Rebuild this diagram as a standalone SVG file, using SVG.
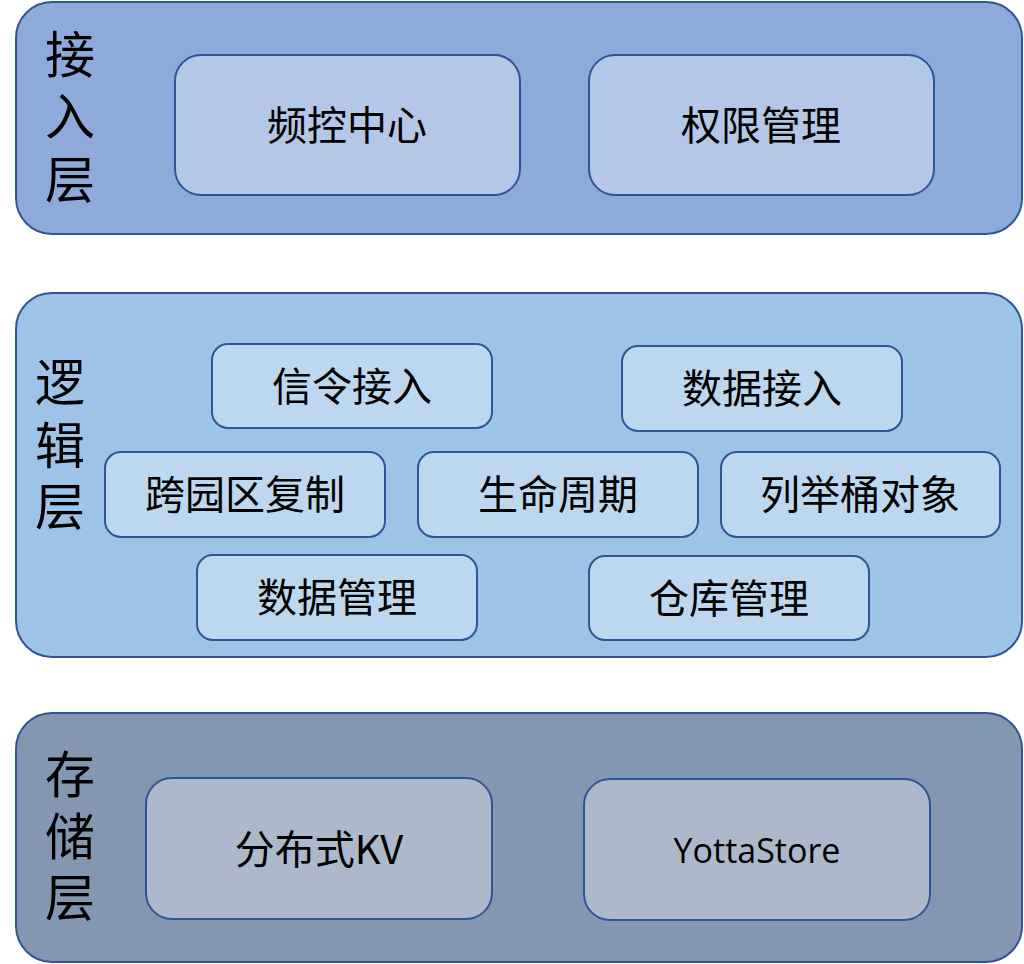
<svg xmlns="http://www.w3.org/2000/svg" width="1024" height="964" viewBox="0 0 1024 964">
<style>
.layer{stroke:#2F5597;stroke-width:2}
.box{stroke:#2F5597;stroke-width:2}
.lbl{font-family:"Liberation Serif","Noto Sans CJK SC",serif;font-size:50px;fill:#000;text-anchor:middle}
.t{font-family:"Noto Sans CJK SC","Liberation Sans",sans-serif;font-size:40px;fill:#000;text-anchor:middle;dominant-baseline:central}
.te{font-family:"Open Sans","Liberation Sans","Noto Sans CJK SC",sans-serif;font-size:34px;fill:#000;text-anchor:middle;dominant-baseline:central}
</style>
<rect width="1024" height="964" fill="#FFFFFF"/>
<g id="layer-access">
<rect class="layer" x="16" y="2" width="1006" height="232" rx="36" fill="#8EAADB"/>
<text class="lbl" x="70" y="73">接</text>
<text class="lbl" x="70" y="135">入</text>
<text class="lbl" x="70" y="198">层</text>
</g>
<g id="node-freq"><rect class="box" x="175" y="55" width="345" height="140" rx="26" fill="#B4C7E7"/><text class="t" x="347" y="123">频控中心</text></g>
<g id="node-perm"><rect class="box" x="589" y="55" width="345" height="140" rx="26" fill="#B4C7E7"/><text class="t" x="761" y="123">权限管理</text></g>
<g id="layer-logic">
<rect class="layer" x="16" y="293" width="1006" height="364" rx="36" fill="#9DC3E6"/>
<text class="lbl" x="60" y="401">逻</text>
<text class="lbl" x="60" y="464">辑</text>
<text class="lbl" x="60" y="525">层</text>
</g>
<g id="node-signal"><rect class="box" x="212" y="344" width="280" height="84" rx="16" fill="#BDD7EE"/><text class="t" x="352" y="384">信令接入</text></g>
<g id="node-dataaccess"><rect class="box" x="622" y="346" width="280" height="85" rx="16" fill="#BDD7EE"/><text class="t" x="762" y="386">数据接入</text></g>
<g id="node-crossregion"><rect class="box" x="105" y="452" width="280" height="85" rx="16" fill="#BDD7EE"/><text class="t" x="245" y="492">跨园区复制</text></g>
<g id="node-lifecycle"><rect class="box" x="418" y="452" width="280" height="85" rx="16" fill="#BDD7EE"/><text class="t" x="558" y="492">生命周期</text></g>
<g id="node-list"><rect class="box" x="721" y="452" width="279" height="85" rx="16" fill="#BDD7EE"/><text class="t" x="860" y="492">列举桶对象</text></g>
<g id="node-datamgmt"><rect class="box" x="197" y="555" width="280" height="85" rx="16" fill="#BDD7EE"/><text class="t" x="337" y="595">数据管理</text></g>
<g id="node-repo"><rect class="box" x="589" y="556" width="280" height="84" rx="16" fill="#BDD7EE"/><text class="t" x="729" y="596">仓库管理</text></g>
<g id="layer-storage">
<rect class="layer" x="16" y="713" width="1006" height="249" rx="36" fill="#8497B0"/>
<text class="lbl" x="70" y="793">存</text>
<text class="lbl" x="70" y="855">储</text>
<text class="lbl" x="70" y="916">层</text>
</g>
<g id="node-kv"><rect class="box" x="146" y="778" width="346" height="141" rx="26" fill="#ADB9CA"/><text class="t" x="319" y="847">分布式KV</text></g>
<g id="node-yotta"><rect class="box" x="584" y="779" width="346" height="141" rx="26" fill="#ADB9CA"/><text class="te" x="757" y="850">YottaStore</text></g>
<g id="connectors"></g>
</svg>
